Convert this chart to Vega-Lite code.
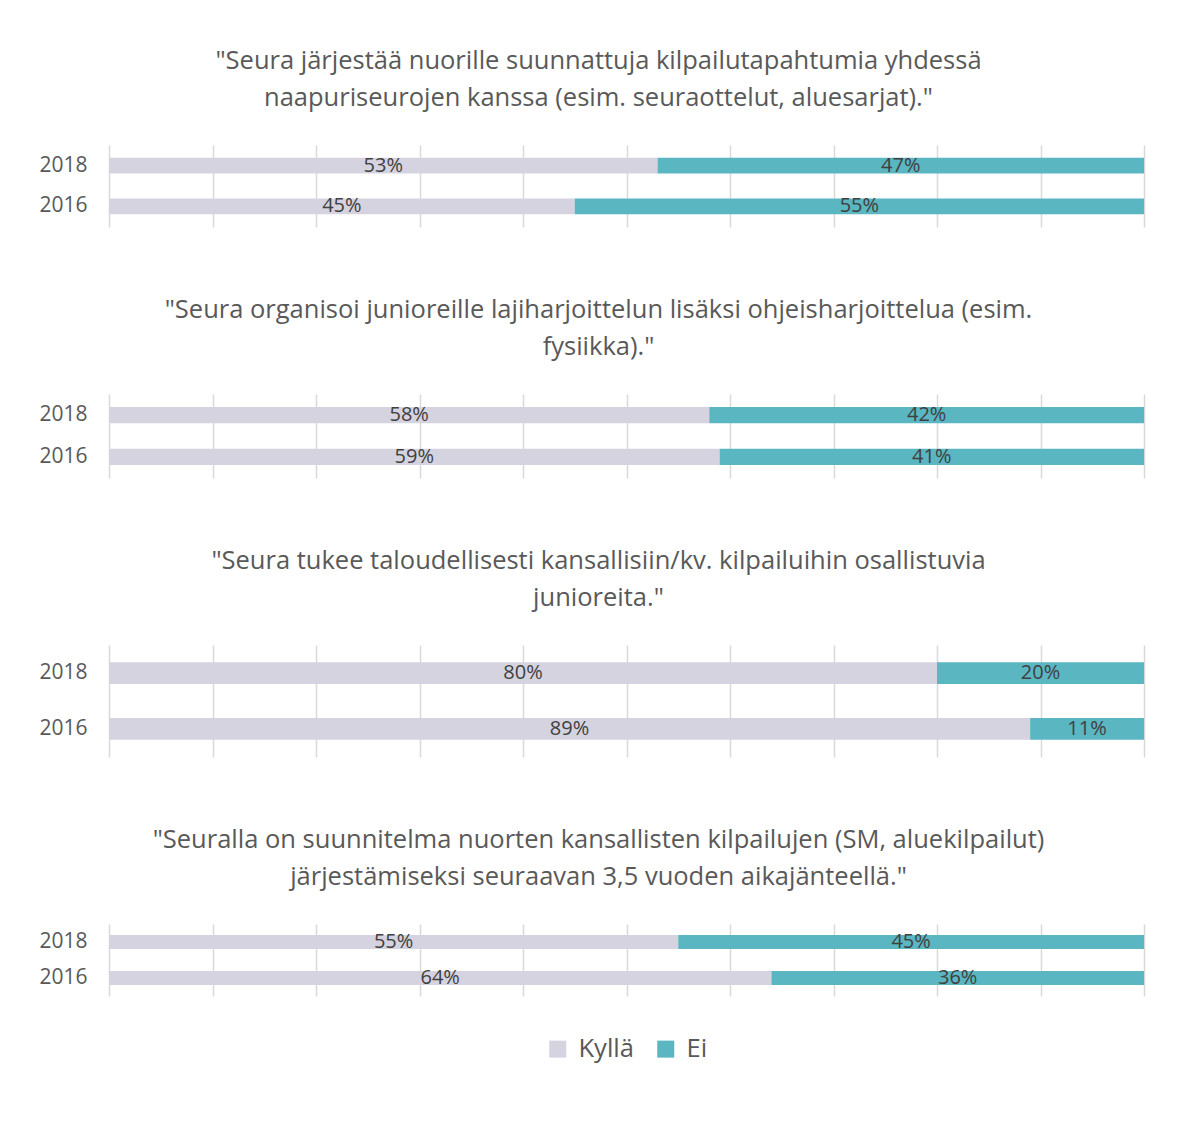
{
  "$schema": "https://vega.github.io/schema/vega-lite/v6.json",
  "padding": {"left": 38, "top": 48, "right": 5, "bottom": 5},
  "background": "white",
  "data": {"values": [
    {"q": 1, "year": "2018", "answer": "Kyllä", "share": 0.53},
    {"q": 1, "year": "2018", "answer": "Ei", "share": 0.47},
    {"q": 1, "year": "2016", "answer": "Kyllä", "share": 0.45},
    {"q": 1, "year": "2016", "answer": "Ei", "share": 0.55},
    {"q": 2, "year": "2018", "answer": "Kyllä", "share": 0.58},
    {"q": 2, "year": "2018", "answer": "Ei", "share": 0.42},
    {"q": 2, "year": "2016", "answer": "Kyllä", "share": 0.59},
    {"q": 2, "year": "2016", "answer": "Ei", "share": 0.41},
    {"q": 3, "year": "2018", "answer": "Kyllä", "share": 0.80},
    {"q": 3, "year": "2018", "answer": "Ei", "share": 0.20},
    {"q": 3, "year": "2016", "answer": "Kyllä", "share": 0.89},
    {"q": 3, "year": "2016", "answer": "Ei", "share": 0.11},
    {"q": 4, "year": "2018", "answer": "Kyllä", "share": 0.55},
    {"q": 4, "year": "2018", "answer": "Ei", "share": 0.45},
    {"q": 4, "year": "2016", "answer": "Kyllä", "share": 0.64},
    {"q": 4, "year": "2016", "answer": "Ei", "share": 0.36}
  ]},
  "spacing": 70,
  "vconcat": [
    {
      "width": 1035, "height": 82,
      "title": {"text": ["\"Seura järjestää nuorille suunnattuja kilpailutapahtumia yhdessä", "naapuriseurojen kanssa (esim. seuraottelut, aluesarjat).\""]},
      "transform": [{"filter": "datum.q == 1"}],
      "encoding": {
        "y": {"field": "year", "type": "nominal", "sort": ["2018", "2016"], "scale": {"paddingInner": 0.61, "paddingOuter": 0.31}},
        "x": {"field": "share", "type": "quantitative", "stack": "zero", "scale": {"domain": [0, 1]}, "axis": {"values": [0, 0.1, 0.2, 0.3, 0.4, 0.5, 0.6, 0.7, 0.8, 0.9, 1]}},
        "color": {"field": "answer", "type": "nominal", "sort": ["Kyllä", "Ei"], "scale": {"domain": ["Kyllä", "Ei"], "range": ["#d5d3df", "#5ab6c1"]}},
        "order": {"field": "answer", "sort": "descending"}
      },
      "layer": [
        {"mark": {"type": "bar"}},
        {"mark": {"type": "text"}, "encoding": {"x": {"field": "share", "type": "quantitative", "stack": "zero", "bandPosition": 0.5}, "text": {"field": "share", "type": "quantitative", "format": ".0%"}, "color": {"value": "#404040"}}}
      ]
    },
    {
      "width": 1035, "height": 84,
      "title": {"text": ["\"Seura organisoi junioreille lajiharjoittelun lisäksi ohjeisharjoittelua (esim.", "fysiikka).\""]},
      "transform": [{"filter": "datum.q == 2"}],
      "encoding": {
        "y": {"field": "year", "type": "nominal", "sort": ["2018", "2016"], "scale": {"paddingInner": 0.61, "paddingOuter": 0.31}},
        "x": {"field": "share", "type": "quantitative", "stack": "zero", "scale": {"domain": [0, 1]}, "axis": {"values": [0, 0.1, 0.2, 0.3, 0.4, 0.5, 0.6, 0.7, 0.8, 0.9, 1]}},
        "color": {"field": "answer", "type": "nominal", "sort": ["Kyllä", "Ei"], "scale": {"domain": ["Kyllä", "Ei"], "range": ["#d5d3df", "#5ab6c1"]}},
        "order": {"field": "answer", "sort": "descending"}
      },
      "layer": [
        {"mark": {"type": "bar"}},
        {"mark": {"type": "text"}, "encoding": {"x": {"field": "share", "type": "quantitative", "stack": "zero", "bandPosition": 0.5}, "text": {"field": "share", "type": "quantitative", "format": ".0%"}, "color": {"value": "#404040"}}}
      ]
    },
    {
      "width": 1035, "height": 112,
      "title": {"text": ["\"Seura tukee taloudellisesti kansallisiin/kv. kilpailuihin osallistuvia", "junioreita.\""]},
      "transform": [{"filter": "datum.q == 3"}],
      "encoding": {
        "y": {"field": "year", "type": "nominal", "sort": ["2018", "2016"], "scale": {"paddingInner": 0.61, "paddingOuter": 0.31}},
        "x": {"field": "share", "type": "quantitative", "stack": "zero", "scale": {"domain": [0, 1]}, "axis": {"values": [0, 0.1, 0.2, 0.3, 0.4, 0.5, 0.6, 0.7, 0.8, 0.9, 1]}},
        "color": {"field": "answer", "type": "nominal", "sort": ["Kyllä", "Ei"], "scale": {"domain": ["Kyllä", "Ei"], "range": ["#d5d3df", "#5ab6c1"]}},
        "order": {"field": "answer", "sort": "descending"}
      },
      "layer": [
        {"mark": {"type": "bar"}},
        {"mark": {"type": "text"}, "encoding": {"x": {"field": "share", "type": "quantitative", "stack": "zero", "bandPosition": 0.5}, "text": {"field": "share", "type": "quantitative", "format": ".0%"}, "color": {"value": "#404040"}}}
      ]
    },
    {
      "width": 1035, "height": 72,
      "title": {"text": ["\"Seuralla on suunnitelma nuorten kansallisten kilpailujen (SM, aluekilpailut)", "järjestämiseksi seuraavan 3,5 vuoden aikajänteellä.\""]},
      "transform": [{"filter": "datum.q == 4"}],
      "encoding": {
        "y": {"field": "year", "type": "nominal", "sort": ["2018", "2016"], "scale": {"paddingInner": 0.61, "paddingOuter": 0.31}},
        "x": {"field": "share", "type": "quantitative", "stack": "zero", "scale": {"domain": [0, 1]}, "axis": {"values": [0, 0.1, 0.2, 0.3, 0.4, 0.5, 0.6, 0.7, 0.8, 0.9, 1]}},
        "color": {"field": "answer", "type": "nominal", "sort": ["Kyllä", "Ei"], "scale": {"domain": ["Kyllä", "Ei"], "range": ["#d5d3df", "#5ab6c1"]}},
        "order": {"field": "answer", "sort": "descending"}
      },
      "layer": [
        {"mark": {"type": "bar"}},
        {"mark": {"type": "text"}, "encoding": {"x": {"field": "share", "type": "quantitative", "stack": "zero", "bandPosition": 0.5}, "text": {"field": "share", "type": "quantitative", "format": ".0%"}, "color": {"value": "#404040"}}}
      ]
    }
  ],
  "config": {
    "font": "Open Sans",
    "view": {"stroke": null},
    "title": {"fontSize": 25.5, "fontWeight": "normal", "color": "#595959", "lineHeight": 37, "anchor": "middle", "dx": -28, "offset": 34},
    "text": {"fontSize": 20, "baseline": "middle"},
    "axisX": {"grid": true, "gridColor": "#d9d9d9", "gridWidth": 1.5, "labels": false, "ticks": false, "domain": false, "title": null},
    "axisY": {"grid": false, "domain": false, "ticks": false, "labelFontSize": 21, "labelColor": "#595959", "labelPadding": 22, "title": null},
    "legend": {"orient": "bottom", "direction": "horizontal", "title": null, "symbolType": "square", "symbolSize": 289, "symbolStrokeWidth": 0, "labelFontSize": 25.5, "labelColor": "#595959", "labelOffset": 8, "columnPadding": 19, "offset": 40, "layout": {"bottom": {"anchor": "middle"}}}
  }
}
